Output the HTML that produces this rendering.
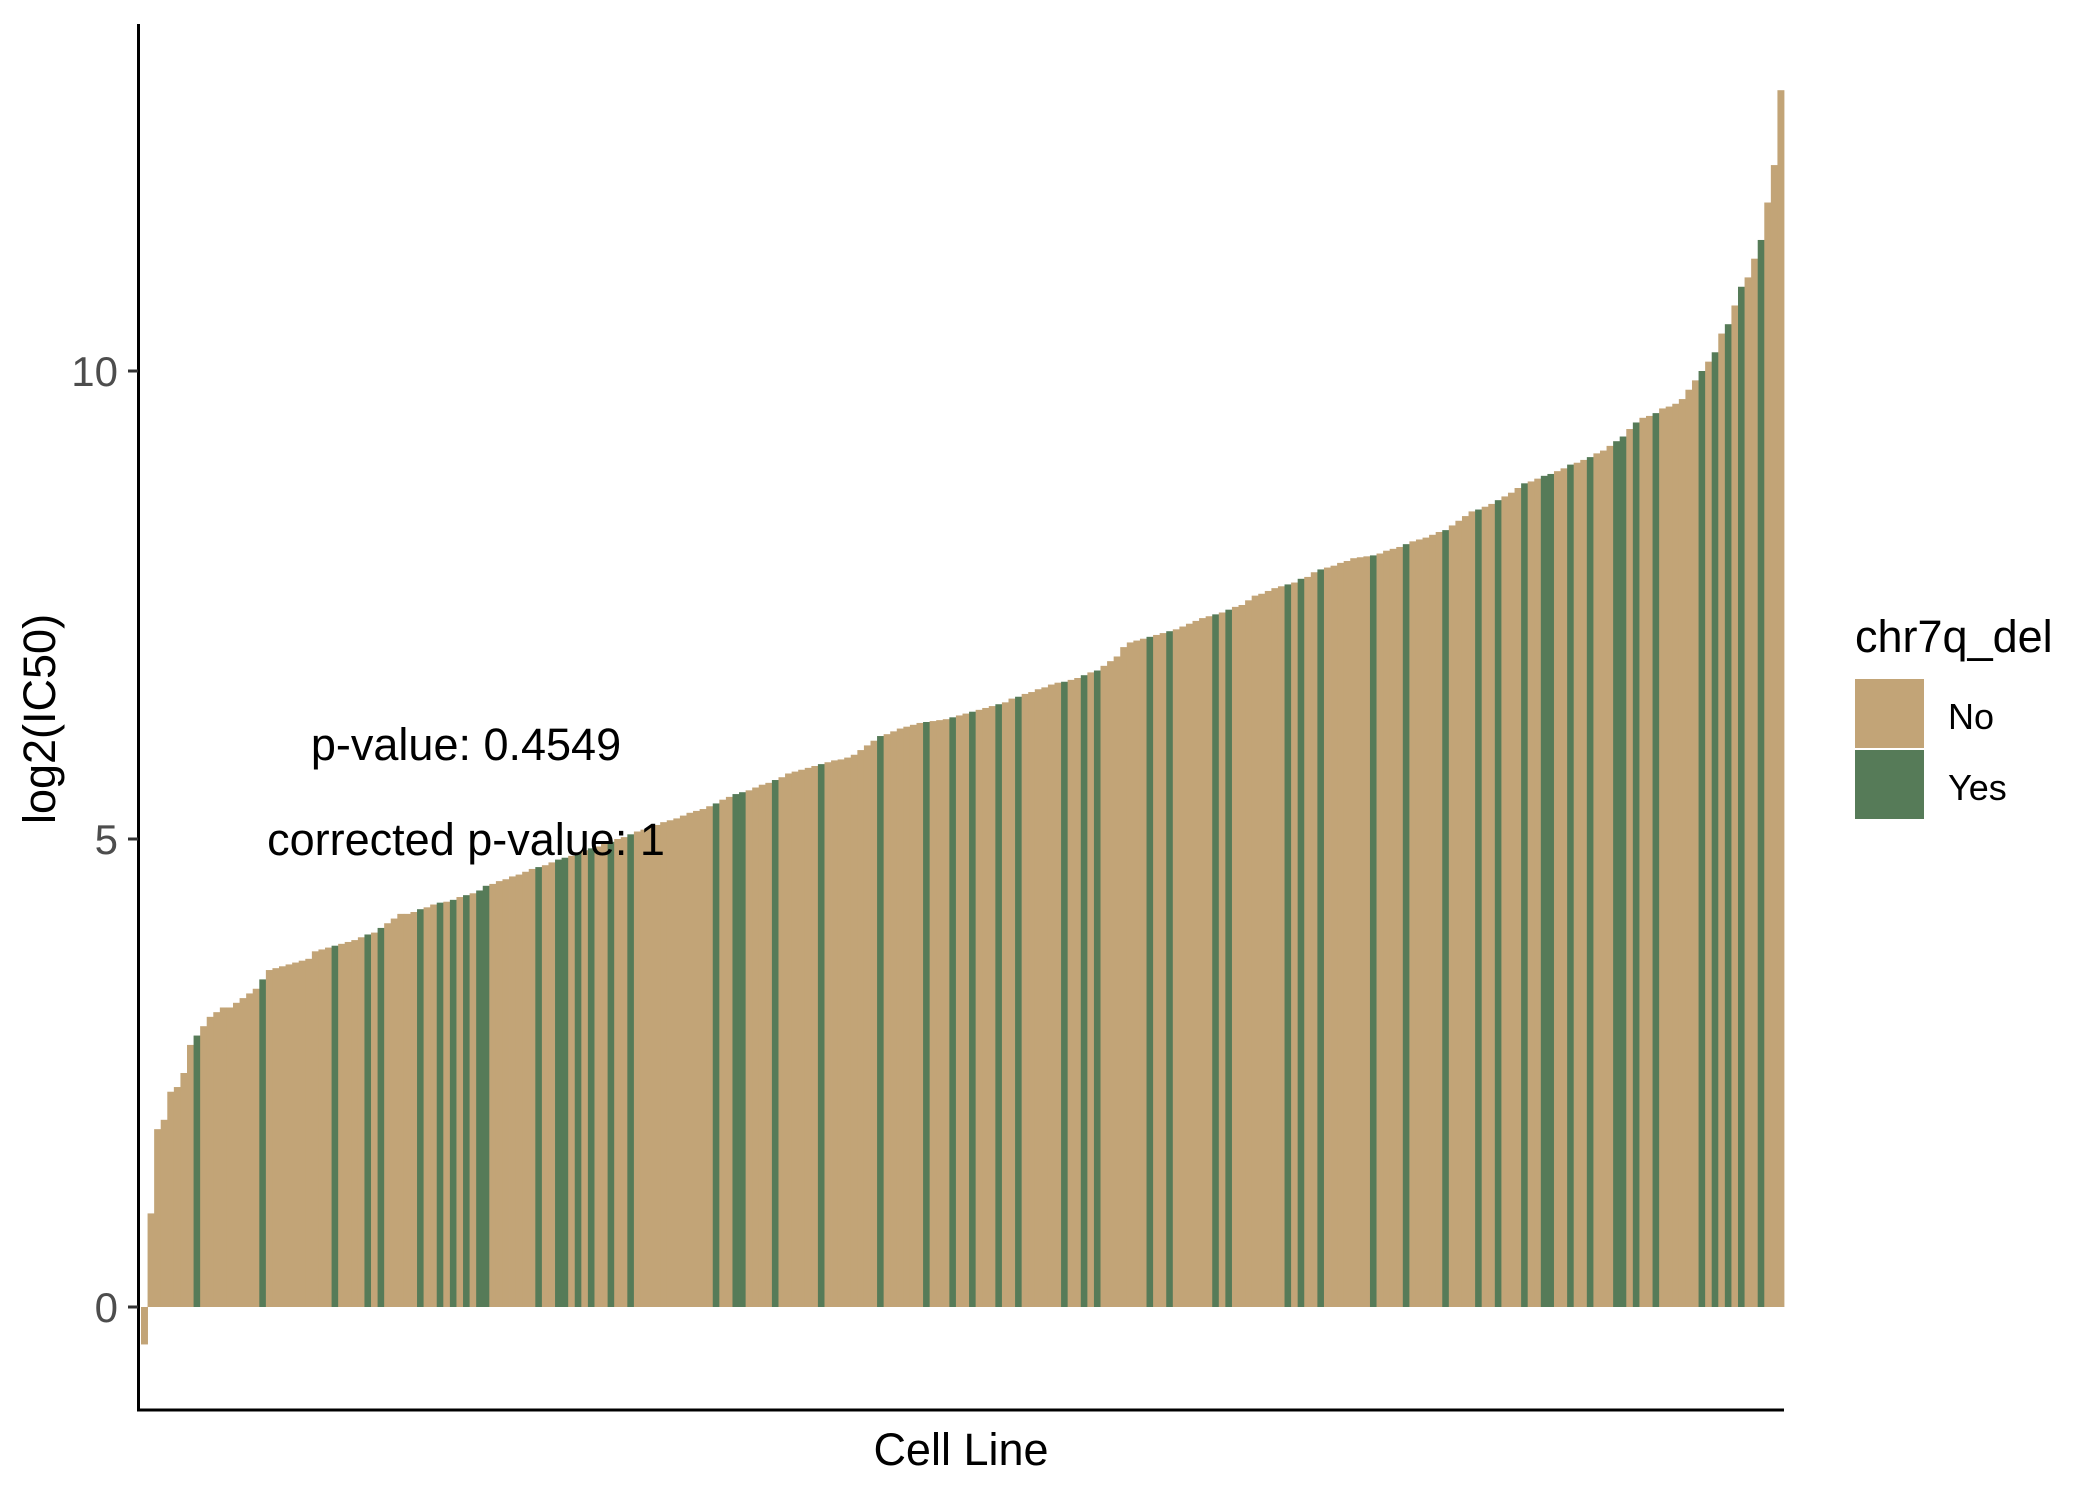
<!DOCTYPE html>
<html><head><meta charset="utf-8"><style>
html,body{margin:0;padding:0;background:#fff;}
svg{display:block;font-family:"Liberation Sans",Arial,sans-serif;}
</style></head><body>
<svg id="chart" width="2099" height="1499" viewBox="0 0 2099 1499" xmlns="http://www.w3.org/2000/svg">
<rect width="2099" height="1499" fill="#fff"/>
<g id="bars"></g>
<g id="axes"></g>
<text x="466" y="760" font-size="45" text-anchor="middle" fill="#000">p-value: 0.4549</text>
<text x="466" y="855" font-size="45" text-anchor="middle" fill="#000">corrected p-value: 1</text>
<text x="961" y="1465" font-size="45" text-anchor="middle" fill="#000">Cell Line</text>
<text x="0" y="0" font-size="45" text-anchor="middle" fill="#000" transform="translate(55,719) rotate(-90)">log2(IC50)</text>
<g>
<text x="1855" y="652" font-size="45" fill="#000">chr7q_del</text>
<rect x="1855" y="679" width="69" height="69" fill="#c2a477"/>
<rect x="1855" y="750" width="69" height="69" fill="#567b58"/>
<text x="1948" y="729" font-size="36" fill="#000">No</text>
<text x="1948" y="800" font-size="36" fill="#000">Yes</text>
</g>
</svg>
<script>
const values = [
-0.4,1.0,1.9,2.0,2.3,2.35,2.5,2.8,2.9,3.0,
3.1,3.15,3.2,3.2,3.25,3.3,3.35,3.4,3.5,3.6,
3.62,3.64,3.66,3.68,3.7,3.72,3.8,3.82,3.84,3.86,
3.88,3.9,3.92,3.95,3.98,4.0,4.05,4.1,4.15,4.2,
4.2,4.22,4.25,4.27,4.3,4.32,4.33,4.35,4.38,4.4,
4.42,4.45,4.5,4.52,4.55,4.57,4.6,4.62,4.65,4.68,
4.7,4.72,4.75,4.78,4.8,4.82,4.85,4.88,4.9,4.92,
4.95,4.97,5.0,5.02,5.05,5.08,5.1,5.12,5.15,5.18,
5.2,5.22,5.25,5.28,5.3,5.32,5.35,5.38,5.42,5.45,
5.48,5.5,5.52,5.55,5.58,5.6,5.63,5.66,5.7,5.72,
5.74,5.76,5.78,5.8,5.82,5.84,5.85,5.87,5.9,5.95,
6.0,6.05,6.1,6.12,6.15,6.18,6.2,6.22,6.24,6.25,
6.26,6.27,6.28,6.3,6.32,6.34,6.36,6.38,6.4,6.42,
6.44,6.46,6.5,6.52,6.55,6.57,6.6,6.62,6.65,6.67,
6.68,6.7,6.72,6.75,6.78,6.8,6.85,6.9,6.95,7.05,
7.1,7.12,7.14,7.16,7.18,7.2,7.22,7.24,7.27,7.3,
7.33,7.36,7.38,7.4,7.42,7.45,7.48,7.5,7.55,7.6,
7.62,7.65,7.68,7.7,7.72,7.74,7.78,7.8,7.85,7.88,
7.9,7.92,7.95,7.97,8.0,8.01,8.02,8.03,8.05,8.08,
8.1,8.12,8.15,8.18,8.2,8.22,8.25,8.28,8.3,8.35,
8.4,8.45,8.5,8.52,8.55,8.58,8.62,8.66,8.7,8.75,
8.8,8.82,8.85,8.88,8.9,8.93,8.96,9.0,9.02,9.05,
9.08,9.12,9.15,9.2,9.25,9.3,9.38,9.45,9.5,9.52,
9.55,9.6,9.62,9.65,9.7,9.8,9.9,10.0,10.1,10.2,
10.4,10.5,10.7,10.9,11.0,11.2,11.4,11.8,12.2,13.0];
const deletedIdx = [8,18,29,34,36,42,45,47,49,51,52,60,63,64,66,68,71,74,87,90,91,96,103,112,119,123,126,130,133,140,143,145,153,156,163,165,174,176,179,187,192,198,203,206,210,213,214,217,220,224,225,227,230,237,239,241,243,246];
const yTicks = [0,5,10];
const yTickLabels = ["0","5","10"];

const NS = "http://www.w3.org/2000/svg";
const X0 = 141, X1 = 1784, Y0PX = 1307, PXPERUNIT = 93.6;
function xPos(i){ return X0 + i*(X1-X0)/values.length; }
function yPos(v){ return Y0PX - v*PXPERUNIT; }
const bw = (X1-X0)/values.length;
const barsG = document.getElementById('bars');
const del = new Set(deletedIdx);
values.forEach((v,i)=>{
  const r = document.createElementNS(NS,'rect');
  const y1 = yPos(Math.max(v,0)), y2 = yPos(Math.min(v,0));
  r.setAttribute('x', xPos(i));
  r.setAttribute('y', y1);
  r.setAttribute('width', bw+0.4);
  r.setAttribute('height', Math.max(y2-y1,0.5));
  r.setAttribute('fill', del.has(i) ? '#567b58' : '#c2a477');
  
  
  barsG.appendChild(r);
});
const ax = document.getElementById('axes');
function line(x1,y1,x2,y2,name){
  const l = document.createElementNS(NS,'line');
  l.setAttribute('x1',x1);l.setAttribute('y1',y1);l.setAttribute('x2',x2);l.setAttribute('y2',y2);
  l.setAttribute('stroke','#000');l.setAttribute('stroke-width','3');
  
  
  ax.appendChild(l);
}
line(138.5,24,138.5,1411.5,'y-axis-line');
line(137,1410,1784,1410,'x-axis-line');
yTicks.forEach((t,k)=>{
  const y = yPos(t);
  const tk = document.createElementNS(NS,'line');
  tk.setAttribute('x1',128);tk.setAttribute('x2',138);tk.setAttribute('y1',y);tk.setAttribute('y2',y);
  tk.setAttribute('stroke','#333');tk.setAttribute('stroke-width','3');
  
  
  ax.appendChild(tk);
  const tx = document.createElementNS(NS,'text');
  tx.setAttribute('x',118);tx.setAttribute('y',y+15);
  tx.setAttribute('text-anchor','end');tx.setAttribute('font-size','42');tx.setAttribute('fill','#4d4d4d');
  tx.textContent = yTickLabels[k];
  
  
  ax.appendChild(tx);
});
</script>
</body></html>
